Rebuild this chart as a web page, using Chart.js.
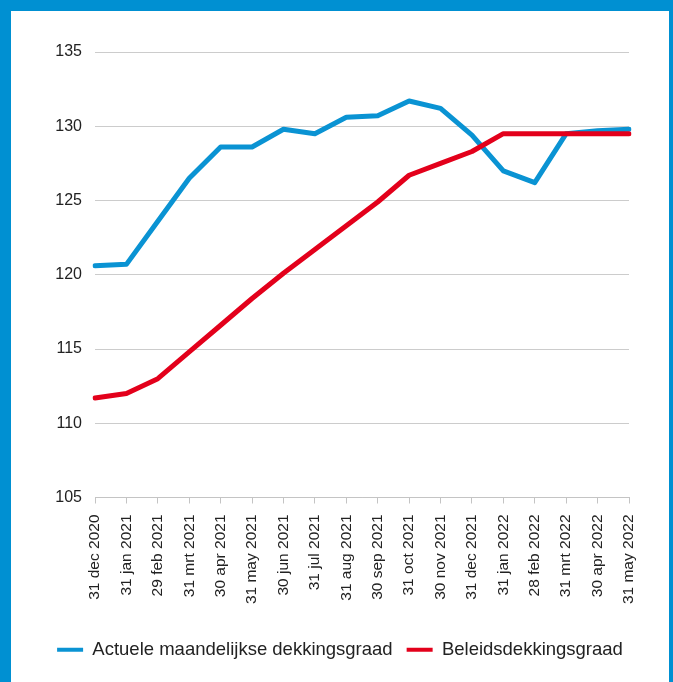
<!DOCTYPE html>
<html>
<head>
<meta charset="utf-8">
<script src="https://cdn.jsdelivr.net/npm/chart.js@4.4.0/dist/chart.umd.min.js"></script>
<style>
  html, body { margin: 0; padding: 0; }
  body { background: #0090d2; width: 673px; height: 682px; overflow: hidden; }
  #panel { position: absolute; left: 11px; top: 11px; width: 658px; height: 671px; background: #fff; }
</style>
</head>
<body>
<div id="panel"><canvas id="dekkingChart" width="658" height="671"></canvas></div>
<script>
var labels = ['31 dec 2020', '31 jan 2021', '29 feb 2021', '31 mrt 2021', '30 apr 2021', '31 may 2021',
  '30 jun 2021', '31 jul 2021', '31 aug 2021', '30 sep 2021', '31 oct 2021', '30 nov 2021',
  '31 dec 2021', '31 jan 2022', '28 feb 2022', '31 mrt 2022', '30 apr 2022', '31 may 2022'];

var actueel = [120.6, 120.7, 123.6, 126.5, 128.6, 128.6, 129.8, 129.5, 130.6, 130.7, 131.7, 131.2,
  129.4, 127.0, 126.2, 129.5, 129.7, 129.8];

var beleid = [111.7, 112.0, 113.0, 114.8, 116.6, 118.4, 120.1, 121.7, 123.3, 124.9, 126.7, 127.5,
  128.3, 129.5, 129.5, 129.5, 129.5, 129.5];

var blue = '#0a93d3';
var red = '#e3001b';

var ctx = document.getElementById('dekkingChart').getContext('2d');
var chart = new Chart(ctx, {
    type: 'line',
    data: {
        labels: labels,
        datasets: [{
            label: 'Actuele maandelijkse dekkingsgraad',
            data: actueel,
            borderColor: blue,
            backgroundColor: blue,
            order: 1
        }, {
            label: 'Beleidsdekkingsgraad',
            data: beleid,
            borderColor: red,
            backgroundColor: red,
            order: 0
        }]
    },
    options: {
        responsive: false,
        animation: false,
        layout: {
            padding: { left: 0, right: 0, top: 41, bottom: 13 }
        },
        elements: {
            line: { borderWidth: 5, tension: 0, borderCapStyle: 'round', borderJoinStyle: 'round' },
            point: { radius: 0 }
        },
        scales: {
            x: {
                grid: { drawOnChartArea: false, drawTicks: true, tickLength: 6, color: '#c4c4c4' },
                border: { color: '#c4c4c4' },
                ticks: {
                    minRotation: 90, maxRotation: 90, autoSkip: false, padding: 11,
                    color: '#222', font: { family: 'Liberation Sans', size: 15.5 }
                },
                afterFit: function (scale) { scale.height = 129; }
            },
            y: {
                min: 105, max: 135,
                grid: { drawTicks: false, color: '#cccccc' },
                border: { display: false },
                ticks: {
                    stepSize: 5, padding: 13,
                    color: '#222', font: { family: 'Liberation Sans', size: 16 }
                },
                afterFit: function (scale) { scale.width = 84; }
            },
            // empty right-hand axis, only there to leave a margin right of the plot
            spacer: {
                type: 'linear', position: 'right',
                grid: { display: false },
                border: { display: false },
                ticks: { display: false },
                afterFit: function (scale) { scale.width = 40; }
            }
        },
        plugins: {
            tooltip: { enabled: false },
            legend: {
                position: 'bottom',
                labels: {
                    boxWidth: 26, boxHeight: 4, padding: 14,
                    color: '#222', font: { family: 'Liberation Sans', size: 18.5 },
                    sort: function (a, b) { return a.datasetIndex - b.datasetIndex; },
                    generateLabels: function (c) {
                        var items = Chart.defaults.plugins.legend.labels.generateLabels(c);
                        items.forEach(function (it) { it.lineWidth = 0; it.fillStyle = it.strokeStyle; });
                        return items;
                    }
                }
            }
        }
    }
});
</script>
</body>
</html>
